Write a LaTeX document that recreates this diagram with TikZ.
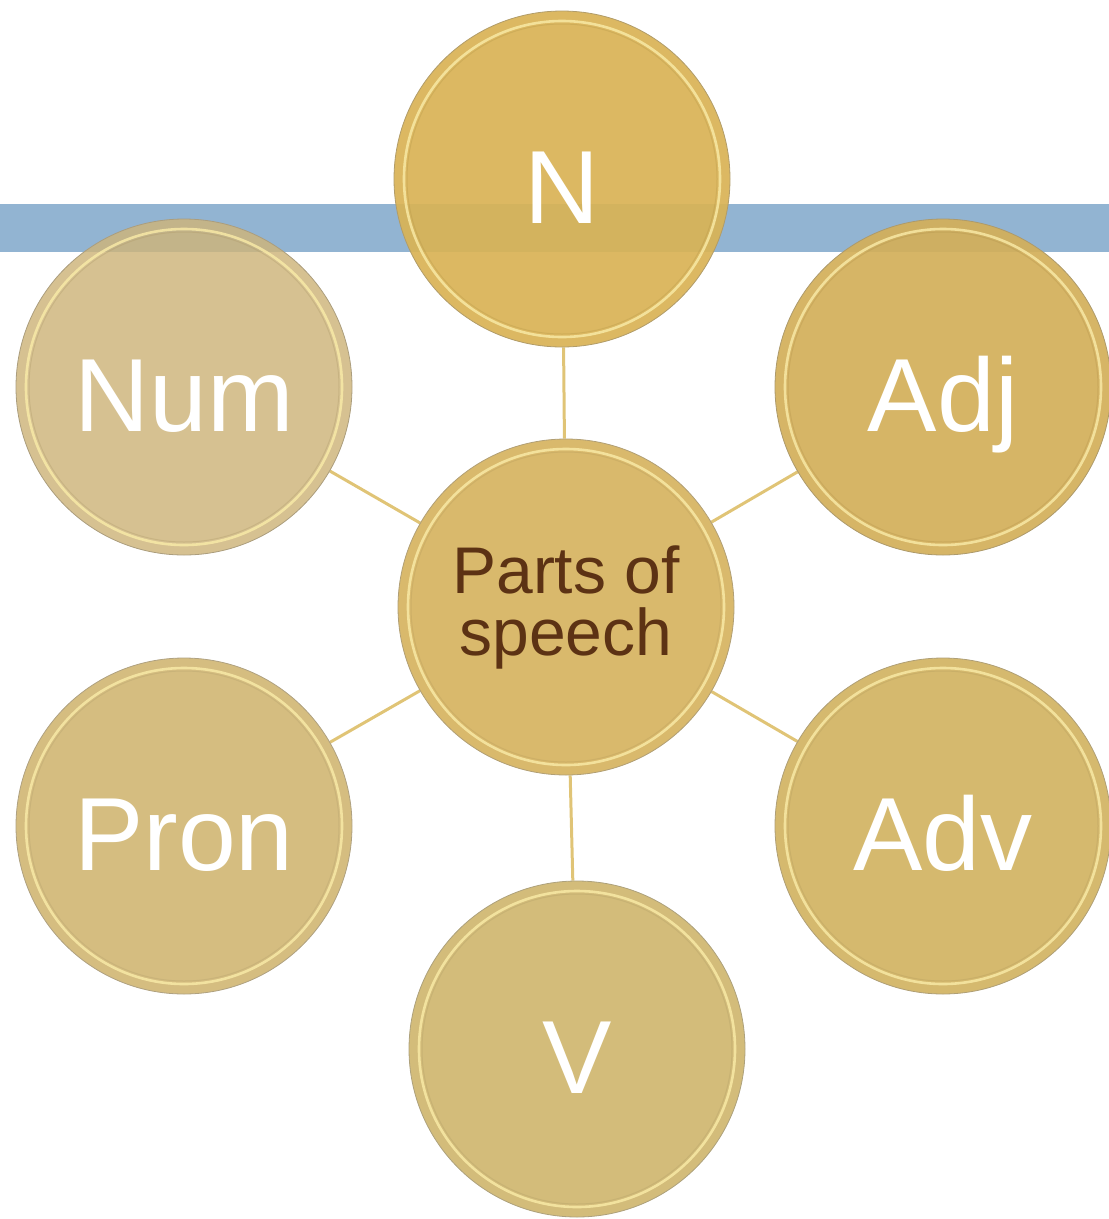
\documentclass[tikz,border=0pt]{standalone}
\usepackage{fontspec}
\setmainfont{Liberation Sans}
\usetikzlibrary{backgrounds}

\definecolor{barblue}{RGB}{146,180,210}
\definecolor{linkgold}{RGB}{224,196,118}
\definecolor{rimlight}{RGB}{250,236,168}
\definecolor{speechbrown}{RGB}{92,50,20}
\definecolor{cN}{RGB}{217,179,86}
\definecolor{cNum}{RGB}{206,181,123}
\definecolor{cAdj}{RGB}{211,175,90}
\definecolor{cPron}{RGB}{213,189,128}
\definecolor{cAdv}{RGB}{213,185,110}
\definecolor{cV}{RGB}{211,188,122}
\definecolor{cHub}{RGB}{217,185,108}

\tikzset{
  disc/.style={circle, minimum size=336pt, inner sep=0pt,
    fill=#1, draw=#1!55!gray, line width=0.8pt, text opacity=1,
    path picture={
      \draw[rimlight, line width=2.6pt, opacity=0.8]
        (path picture bounding box.center) circle (158pt);
      \draw[#1!85!black, line width=1pt, opacity=0.35]
        (path picture bounding box.center) circle (155pt);
    }},
  tag/.style={text=white, font=\fontsize{104}{104}\selectfont,
    text height=88pt, text depth=0pt},
  link/.style={draw=linkgold, line width=3pt}
}

\begin{document}
\begin{tikzpicture}[x=1pt, y=-1pt]
  \useasboundingbox (0,0) rectangle (1109,1219);

  % outer ring of word classes
  \node[disc=cN,   tag, fill opacity=0.93] (n)    at (562,179)  {N};
  \node[disc=cNum, tag, fill opacity=0.83] (num)  at (184,387)  {Num};
  \node[disc=cAdj, tag, fill opacity=0.93] (adj)  at (943,387)  {Adj};
  \node[disc=cPron, tag] (pron) at (184,826)  {Pron};
  \node[disc=cAdv,  tag] (adv)  at (943,826)  {Adv};
  \node[disc=cV,    tag] (v)    at (577,1049) {V};

  % hub
  \node[disc=cHub, text=speechbrown, align=center,
        font=\fontsize{66}{62}\selectfont] (hub) at (566,607)
        {Parts of\\speech};

  \begin{pgfonlayer}{background}
    % header band
    \fill[barblue] (0,204) rectangle (1109,252);
    % spokes
    \foreach \t in {n,num,adj,pron,adv,v}
      \draw[link] (hub) -- (\t);
  \end{pgfonlayer}
\end{tikzpicture}
\end{document}
